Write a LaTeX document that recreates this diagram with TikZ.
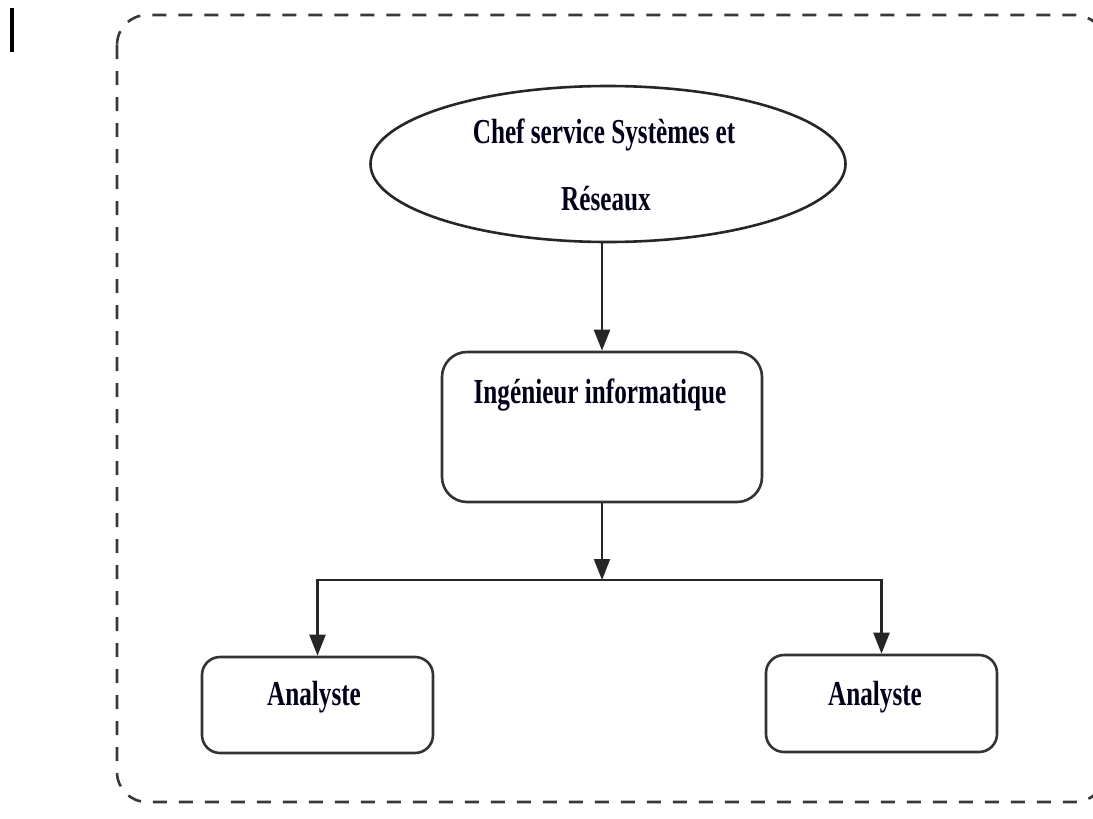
\documentclass[tikz,border=0pt]{standalone}
\usepackage{fontspec}
\usepackage{graphicx}
\setmainfont{Liberation Serif}
\usetikzlibrary{arrows.meta,shapes.geometric}

% condensed bold label text
\newcommand{\orgtext}[1]{\bfseries\fontsize{35}{40}\selectfont\scalebox{0.72}[1]{#1}}

\tikzset{
  frame/.style={draw=black!78, line width=2.6pt, dash pattern=on 14pt off 12pt, rounded corners=30pt},
  unitbox/.style={draw=black!80, line width=2.6pt, rectangle, inner sep=0pt},
  headoval/.style={draw=black!85, line width=2.6pt, ellipse, inner sep=0pt},
  lbl/.style={anchor=base, inner sep=0pt, text=black!90!blue},
  link/.style={draw=black!85, line width=2.4pt, -{Triangle[width=16pt,length=21pt]}},
}

\begin{document}
\begin{tikzpicture}[x=1pt,y=-1pt]
\useasboundingbox (0,0) rectangle (1093,819);

% text cursor mark in the corner
\draw[line width=4pt] (12,8) -- (12,52);

% dashed department frame
\draw[frame] (117,15) rectangle (1105,802);

% units
\node[headoval, minimum width=475pt, minimum height=156pt] (chef) at (608,164) {};
\node[unitbox, rounded corners=25pt, minimum width=320pt, minimum height=150pt] (ing) at (602,427) {};
\node[unitbox, rounded corners=18pt, minimum width=231pt, minimum height=96pt] (an1) at (317.5,705) {};
\node[unitbox, rounded corners=18pt, minimum width=231pt, minimum height=97pt] (an2) at (881.5,703.5) {};

% labels
\node[lbl] (chefA) at (604,143) {\orgtext{Chef service Systèmes et}};
\node[lbl] (chefB) at (606,210) {\orgtext{Réseaux}};
\node[lbl] (ingT) at (600,403) {\orgtext{Ingénieur informatique}};
\node[lbl] (an1T) at (314,705) {\orgtext{Analyste}};
\node[lbl] (an2T) at (875,705) {\orgtext{Analyste}};

% hierarchy links
\coordinate (split) at (602,580);
\draw[link] (chef.south -| ing.north) -- (ing.north);
\draw[link] (ing.south) -- (split);
\draw[link] (split) -| (an1.north);
\draw[link] (split) -| (an2.north);
\end{tikzpicture}
\end{document}
